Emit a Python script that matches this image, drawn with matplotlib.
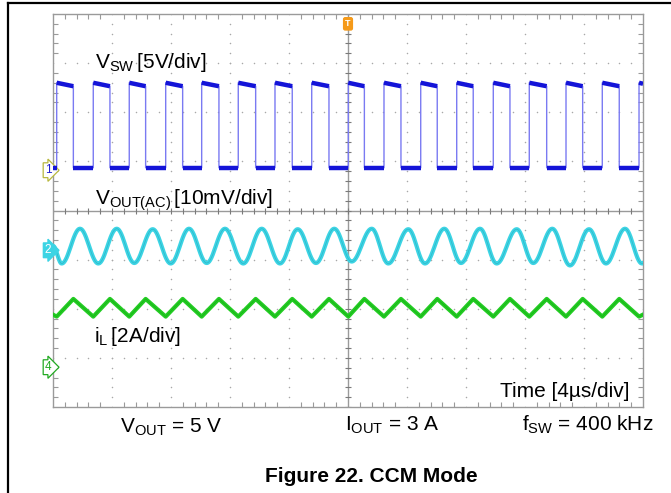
import numpy as np
import matplotlib
matplotlib.use("Agg")
import matplotlib.pyplot as plt
from matplotlib.lines import Line2D

plt.rcParams['font.family'] = ['Liberation Sans', 'DejaVu Sans']
plt.rcParams['mathtext.fontset'] = 'custom'
plt.rcParams['mathtext.rm'] = 'Liberation Sans'

# time axis: 4 us/div, 10 div ; vertical: 8 div
# switch node edges (us)
sw_rise_us = [0.25, 2.73, 5.17, 7.64, 10.08, 12.56, 15.05, 17.54, 20.02,
              22.44, 24.93, 27.37, 29.85, 32.29, 34.78, 37.24, 39.73]
sw_fall_us = [1.38, 3.86, 6.28, 8.79, 11.25, 13.74, 16.22, 18.71,
              21.11, 23.59, 26.05, 28.49, 30.98, 33.47, 35.91, 38.39]
sw_low = 0.87
sw_high_start = 2.60
sw_high_end = 2.53

# output ripple extrema (us, div)
vout_t = [0.0, 0.59, 1.83, 3.07, 4.32, 5.51, 6.76, 7.98, 9.22, 10.42, 11.66,
          12.90, 14.15, 15.39, 16.59, 17.83, 19.07, 20.25, 21.61, 22.73,
          24.09, 25.22, 26.53, 27.66, 28.95, 30.08, 31.44, 32.56, 33.85,
          35.05, 36.34, 37.49, 38.78, 39.93, 40.0]
vout_v = [-0.72, -1.08, -0.37, -1.08, -0.37, -1.07, -0.38, -1.08, -0.37,
          -1.07, -0.37, -1.08, -0.37, -1.08, -0.38, -1.07, -0.37, -1.04,
          -0.37, -1.08, -0.38, -1.08, -0.37, -1.07, -0.37, -1.08, -0.38,
          -1.07, -0.37, -1.12, -0.38, -1.08, -0.37, -1.08, -1.07]

# inductor current: troughs at rising edges, peaks at falling edges
il_start = -2.12
il_trough = -2.16
il_peak = -1.80
il_end = -2.12

ch_marks = {"1": 0.82, "2": -0.81, "4": -3.19}

fig = plt.figure(figsize=(6.71, 4.93), dpi=100)
W, H = 671, 493


def fx(px):
    return px / W


def fy(py):
    return 1 - py / H


ax = fig.add_axes([fx(53), fy(407), fx(643) - fx(53), fy(14) - fy(407)])
ax.set_xlim(0, 40)
ax.set_ylim(-4, 4)

grid_c = '#9a9a9a'
for s in ax.spines.values():
    s.set_color(grid_c)
    s.set_linewidth(1.0)
ax.set_xticks(np.arange(0, 41, 4))
ax.set_yticks(np.arange(-4, 5, 1))
ax.set_xticks(np.arange(0, 40.1, 0.8), minor=True)
ax.set_yticks(np.arange(-4, 4.01, 0.2), minor=True)
ax.tick_params(which='both', direction='in', top=True, right=True,
               labelbottom=False, labelleft=False, color=grid_c, width=0.8)
ax.tick_params(which='major', length=0)
ax.tick_params(which='minor', length=3.5)

# dotted graticule
for gx in range(4, 40, 4):
    if gx == 20:
        continue
    yy = np.arange(-4, 4.01, 0.2)
    ax.scatter(np.full_like(yy, gx), yy, s=1.2, color='#a8a8a8', lw=0, zorder=1)
for gy in range(-3, 4):
    if gy == 0:
        continue
    xx = np.arange(0, 40.1, 0.8)
    ax.scatter(xx, np.full_like(xx, gy), s=1.2, color='#a8a8a8', lw=0, zorder=1)

# centre cross with ticks
ax.axhline(0, color=grid_c, lw=1.0, zorder=1)
ax.axvline(20, color=grid_c, lw=1.0, zorder=1)
xx = np.arange(0, 40.1, 0.8)
ax.scatter(xx, np.zeros_like(xx), marker='|', s=22, color='#7a7a7a', lw=0.8, zorder=1)
yy = np.arange(-4, 4.01, 0.2)
ax.scatter(np.full_like(yy, 20), yy, marker='_', s=22, color='#7a7a7a', lw=0.8, zorder=1)

# V_SW trace
sw_t, sw_v = [0.0], [sw_low]
hi_segs = []
lo_segs = []
prev = 0.0
for i, r in enumerate(sw_rise_us):
    lo_segs.append(([prev, r], [sw_low, sw_low]))
    f = sw_fall_us[i] if i < len(sw_fall_us) else 40.0
    end_v = sw_high_end if i < len(sw_fall_us) else sw_high_start - 0.02
    sw_t += [r, r, f]
    sw_v += [sw_low, sw_high_start, end_v]
    hi_segs.append(([r, f], [sw_high_start, end_v]))
    if i < len(sw_fall_us):
        sw_t += [f]
        sw_v += [sw_low]
        prev = f
ax.plot(sw_t, sw_v, color='#7a7af2', lw=1.0, zorder=3)
for sx, sy in hi_segs + lo_segs:
    ax.plot(sx, sy, color='#1414d8', lw=3.2, zorder=4, solid_capstyle='butt')

# V_OUT ripple trace, smooth between read extrema
vt, vv = [], []
for i in range(len(vout_t) - 1):
    u = np.linspace(0, 1, 16)
    vt.extend(vout_t[i] + (vout_t[i + 1] - vout_t[i]) * u)
    vv.extend(vout_v[i] + (vout_v[i + 1] - vout_v[i]) * (1 - np.cos(np.pi * u)) / 2)
ax.plot(vt, vv, color='#3cd4e4', lw=3.0, zorder=3)
ax.plot(vt, vv, color='#1a8fa0', lw=0.4, zorder=3, alpha=0.5)

# inductor current trace
il_t = [0.0]
il_v = [il_start]
for i, r in enumerate(sw_rise_us):
    il_t.append(r)
    il_v.append(il_trough)
    if i < len(sw_fall_us):
        il_t.append(sw_fall_us[i])
        il_v.append(il_peak)
il_t.append(40.0)
il_v.append(il_end)
ax.plot(il_t, il_v, color='#22cc22', lw=3.0, zorder=3)
ax.plot(il_t, il_v, color='#118811', lw=0.4, zorder=3, alpha=0.5)

# channel markers
tr = ax.get_yaxis_transform()
ax.text(-0.003, ch_marks["1"], "1", transform=tr, ha='right', va='center',
        fontsize=8.5, color='#2020d0', clip_on=False,
        bbox=dict(boxstyle='rarrow,pad=0.12', fc='white', ec='#b8b840', lw=0.9))
ax.text(-0.003, ch_marks["2"], "2", transform=tr, ha='right', va='center',
        fontsize=8.5, color='white', clip_on=False,
        bbox=dict(boxstyle='rarrow,pad=0.12', fc='#3cd4e4', ec='#3cd4e4', lw=0.9))
ax.text(-0.003, ch_marks["4"], "4", transform=tr, ha='right', va='center',
        fontsize=8.5, color='#22aa22', clip_on=False,
        bbox=dict(boxstyle='rarrow,pad=0.12', fc='white', ec='#22aa22', lw=0.9))

# trigger marker
ax.text(20, 3.8, "T", ha='center', va='center', fontsize=6.5, color='white',
        fontweight='bold', clip_on=False,
        bbox=dict(boxstyle='round,pad=0.18', fc='#f59a1a', ec='#f59a1a'))

# labels
fs = 15
fig.text(fx(95), fy(68), r'$\mathregular{V_{SW}\,[5V/div]}$', fontsize=fs, va='baseline')
fig.text(fx(95), fy(205), r'$\mathregular{V_{OUT(AC)}\,[10mV/div]}$', fontsize=fs, va='baseline')
fig.text(fx(94), fy(342), r'$\mathregular{i_{L}\,[2A/div]}$', fontsize=fs, va='baseline')
fig.text(fx(630), fy(397), 'Time [4µs/div]', fontsize=fs, ha='right', va='baseline')

fig.text(fx(120), fy(433), r'$\mathregular{V_{OUT}}$ = 5 V', fontsize=fs, va='baseline')
fig.text(fx(345), fy(431), r'$\mathregular{I_{OUT}}$ = 3 A', fontsize=fs, va='baseline')
fig.text(fx(522), fy(431), r'$\mathregular{f_{SW}}$ = 400 kHz', fontsize=fs, va='baseline')

fig.text(fx(371), fy(482), 'Figure 22. CCM Mode', fontsize=15, fontweight='bold',
         ha='center', va='baseline')

# page frame
fig.add_artist(Line2D([fx(8), fx(8)], [0, fy(3)], color='black', lw=1.6))
fig.add_artist(Line2D([fx(8), 1], [fy(3), fy(3)], color='black', lw=1.6))

fig.savefig("out.png", dpi=100)
